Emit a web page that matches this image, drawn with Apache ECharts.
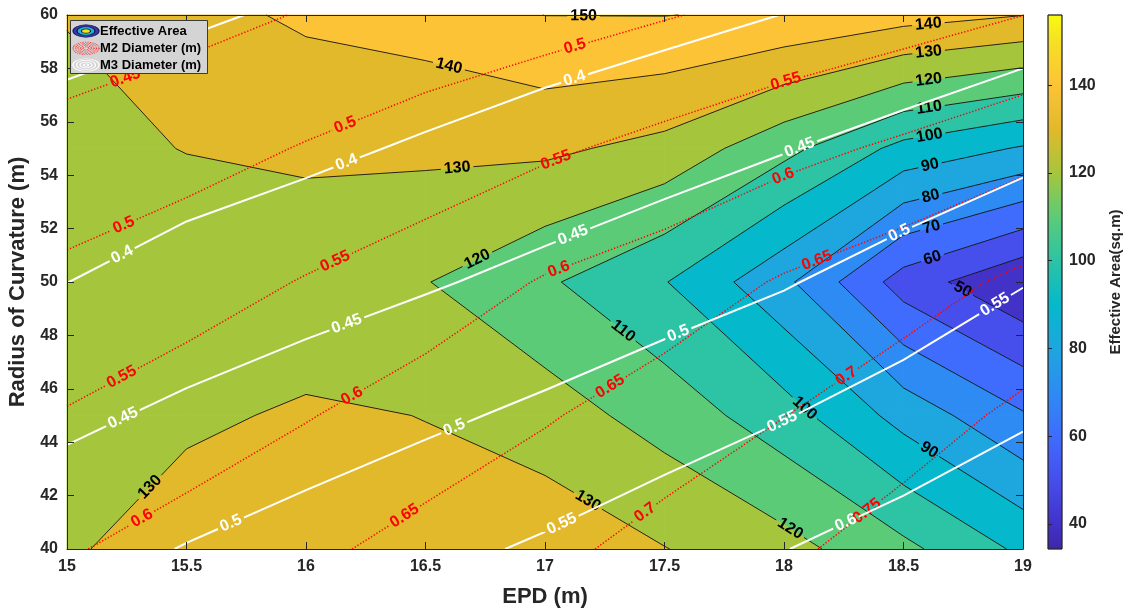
<!DOCTYPE html>
<html>
<head>
<meta charset="utf-8">
<title>Effective Area contour</title>
<script src="https://cdn.jsdelivr.net/npm/echarts@6.0.0/dist/echarts.min.js"></script>
<style>
html,body{margin:0;padding:0;background:#ffffff;}
#chart{width:1129px;height:612px;}
</style>
</head>
<body>
<div id="chart"></div>
<script>
// ---------------- data ----------------
const epd = [15, 15.5, 16, 16.5, 17, 17.5, 18, 18.5, 19];
const radius = [40, 45, 50, 55, 60];

// Effective Area (sq.m), one array per radius of curvature, one value per EPD
const area_R40 = [128.5, 136, 137, 134, 136.5, 130.3, 123.5, 112.5, 98];
const area_R45 = [126, 128, 131.5, 129.8, 124.7, 116, 104.3, 86.4, 71];
const area_R50 = [124, 123, 122, 120.4, 111.5, 100.5, 82.4, 55.4, 41];
const area_R55 = [127, 130.3, 132.3, 131.9, 131.9, 127, 113, 97, 89];
const area_R60 = [130.4, 137, 141.5, 144.2, 150.1, 150.2, 148.5, 144, 140.2];

// M2 Diameter (m)
const m2_R40 = [0.596, 0.6185, 0.6406, 0.665, 0.688, 0.7166, 0.7416, 0.7711, 0.797];
const m2_R45 = [0.5529, 0.5745, 0.5976, 0.6218, 0.646, 0.6729, 0.6993, 0.7285, 0.7597];
const m2_R50 = [0.5106, 0.5297, 0.5527, 0.5746, 0.6034, 0.6238, 0.6545, 0.6791, 0.7097];
const m2_R55 = [0.4665, 0.4827, 0.5028, 0.5223, 0.5429, 0.5634, 0.586, 0.6083, 0.6339];
const m2_R60 = [0.4218, 0.4356, 0.4526, 0.4692, 0.4816, 0.4973, 0.5137, 0.5301, 0.5497];

// M3 Diameter (m)
const m3_R40 = [0.482, 0.502, 0.52, 0.538, 0.556, 0.5775, 0.599, 0.6195, 0.64];
const m3_R45 = [0.441, 0.4585, 0.4746, 0.4916, 0.509, 0.528, 0.548, 0.5708, 0.5945];
const m3_R50 = [0.3997, 0.417, 0.4316, 0.4457, 0.4615, 0.479, 0.4967, 0.5209, 0.548];
const m3_R55 = [0.367, 0.3795, 0.391, 0.405, 0.4187, 0.4323, 0.448, 0.4664, 0.4866];
const m3_R60 = [0.334, 0.3444, 0.356, 0.365, 0.3776, 0.3884, 0.4005, 0.4095, 0.4256];

const areaLevels = [40, 50, 60, 70, 80, 90, 100, 110, 120, 130, 140, 150];
const m2Levels = [0.45, 0.5, 0.55, 0.6, 0.65, 0.7, 0.75];
const m3Levels = [0.35, 0.4, 0.45, 0.5, 0.55, 0.6];
const colorbarTicks = [40, 60, 80, 100, 120, 140];
const colorLimits = [34.3, 156];
const legendNames = ['Effective Area', 'M2 Diameter (m)', 'M3 Diameter (m)'];

// ---------------- styles ----------------
const FONT = "'Liberation Sans', Arial, Helvetica, sans-serif";
const AXIS_COLOR = '#262626';
const LABEL_FONT = 'bold 16px ' + FONT;
// parula-like colour map (t in 0..1)
const cmap = [
  [0.000, [62, 38, 168]],
  [0.047, [66, 50, 200]],
  [0.129, [70, 78, 236]],
  [0.211, [63, 108, 252]],
  [0.293, [46, 139, 243]],
  [0.375, [30, 166, 223]],
  [0.458, [6, 184, 203]],
  [0.540, [45, 195, 165]],
  [0.622, [92, 203, 120]],
  [0.704, [165, 198, 60]],
  [0.786, [225, 185, 43]],
  [0.868, [253, 195, 55]],
  [0.950, [246, 224, 36]],
  [1.000, [249, 251, 14]]
];
function cmapRGB(v) {
  let t = (v - colorLimits[0]) / (colorLimits[1] - colorLimits[0]);
  t = Math.max(0, Math.min(1, t));
  for (let k = 0; k < cmap.length - 1; k++) {
    const t0 = cmap[k][0], c0 = cmap[k][1], t1 = cmap[k + 1][0], c1 = cmap[k + 1][1];
    if (t <= t1) {
      const u = (t - t0) / (t1 - t0);
      return 'rgb(' + c0.map((c, m) => Math.round(c + (c1[m] - c) * u)).join(',') + ')';
    }
  }
  return 'rgb(' + cmap[cmap.length - 1][1].join(',') + ')';
}

// ---------------- contour helpers ----------------
function contourPolylines(Z, level) {
  const nx = epd.length, ny = radius.length, pts = {}, segs = [];
  function cross(key, x0, y0, z0, x1, y1, z1) {
    if (!(key in pts)) { const t = (level - z0) / (z1 - z0); pts[key] = [x0 + (x1 - x0) * t, y0 + (y1 - y0) * t]; }
    return key;
  }
  for (let j = 0; j < ny - 1; j++) for (let i = 0; i < nx - 1; i++) {
    const x0 = epd[i], x1 = epd[i + 1], y0 = radius[j], y1 = radius[j + 1];
    const z00 = Z[j][i], z10 = Z[j][i + 1], z11 = Z[j + 1][i + 1], z01 = Z[j + 1][i];
    const a00 = z00 >= level, a10 = z10 >= level, a11 = z11 >= level, a01 = z01 >= level;
    const e = [];
    if (a00 !== a10) e.push(cross('h' + i + '_' + j, x0, y0, z00, x1, y0, z10));
    if (a10 !== a11) e.push(cross('v' + (i + 1) + '_' + j, x1, y0, z10, x1, y1, z11));
    if (a01 !== a11) e.push(cross('h' + i + '_' + (j + 1), x0, y1, z01, x1, y1, z11));
    if (a00 !== a01) e.push(cross('v' + i + '_' + j, x0, y0, z00, x0, y1, z01));
    if (e.length === 2) segs.push([e[0], e[1]]);
    else if (e.length === 4) {
      const ac = (z00 + z10 + z11 + z01) / 4 >= level;
      if (ac === a00) { segs.push([e[0], e[1]]); segs.push([e[2], e[3]]); }
      else { segs.push([e[0], e[3]]); segs.push([e[1], e[2]]); }
    }
  }
  const adj = {};
  segs.forEach((s, k) => { (adj[s[0]] || (adj[s[0]] = [])).push(k); (adj[s[1]] || (adj[s[1]] = [])).push(k); });
  const used = segs.map(() => false), lines = [];
  const walk = (key, k) => {
    const out = [key]; let cur = key;
    while (k !== undefined) {
      used[k] = true; const s = segs[k];
      cur = s[0] === cur ? s[1] : s[0]; out.push(cur);
      k = adj[cur].find(q => !used[q]);
    }
    return out;
  };
  Object.keys(adj).forEach(key => { if (adj[key].length === 1 && !used[adj[key][0]]) lines.push(walk(key, adj[key][0])); });
  segs.forEach((s, k) => { if (!used[k]) lines.push(walk(s[0], k)); });
  return lines.map(l => l.map(key => pts[key]));
}

function clipPoly(poly, thr, keepAbove) {
  const out = [], n = poly.length;
  for (let k = 0; k < n; k++) {
    const c = poly[k], d = poly[(k + 1) % n];
    const ci = keepAbove ? c[2] >= thr : c[2] <= thr;
    const di = keepAbove ? d[2] >= thr : d[2] <= thr;
    if (ci) out.push(c);
    if (ci !== di) { const t = (thr - c[2]) / (d[2] - c[2]); out.push([c[0] + (d[0] - c[0]) * t, c[1] + (d[1] - c[1]) * t, thr]); }
  }
  return out;
}

function bandPolygons(Z, levels) {
  const bounds = [-Infinity].concat(levels, [Infinity]), polys = [];
  for (let j = 0; j < radius.length - 1; j++) for (let i = 0; i < epd.length - 1; i++) {
    const x0 = epd[i], x1 = epd[i + 1], y0 = radius[j], y1 = radius[j + 1];
    const cell = [[x0, y0, Z[j][i]], [x1, y0, Z[j][i + 1]], [x1, y1, Z[j + 1][i + 1]], [x0, y1, Z[j + 1][i]]];
    for (let b = 0; b < bounds.length - 1; b++) {
      const lo = bounds[b], hi = bounds[b + 1];
      let p = cell;
      if (isFinite(lo)) p = clipPoly(p, lo, true);
      if (p.length < 3) continue;
      if (isFinite(hi)) p = clipPoly(p, hi, false);
      if (p.length < 3) continue;
      polys.push({ pts: p.map(q => [q[0], q[1]]), color: cmapRGB(isFinite(lo) ? lo : colorLimits[0]) });
    }
  }
  return polys;
}

const measureCtx = document.createElement('canvas').getContext('2d');
function textWidth(t, font) { measureCtx.font = font; return measureCtx.measureText(t).width; }

// ---------------- chart ----------------
const chart = echarts.init(document.getElementById('chart'), null, { width: 1129, height: 612 });

const axisCommon = {
  axisLine: { show: true, onZero: false, lineStyle: { color: AXIS_COLOR, width: 1 } },
  axisTick: { show: true, inside: true, length: 7, lineStyle: { color: AXIS_COLOR, width: 1 } },
  splitLine: { show: false },
  z: 10
};
const tickLabel = { color: AXIS_COLOR, fontFamily: FONT, fontWeight: 'bold', fontSize: 16 };
const nameStyle = { color: AXIS_COLOR, fontFamily: FONT, fontWeight: 'bold', fontSize: 22 };

const gradStops = cmap.map(s => ({ offset: 1 - s[0], color: 'rgb(' + s[1].join(',') + ')' })).reverse();
const colorbarSeries = {
  type: 'custom', xAxisIndex: 2, yAxisIndex: 2, silent: true, z: 2,
  data: [[0, colorLimits[0]]],
  renderItem: (params, api) => {
    const p0 = api.coord([0, colorLimits[1]]), p1 = api.coord([1, colorLimits[0]]);
    return { type: 'rect', shape: { x: p0[0], y: p0[1], width: p1[0] - p0[0], height: p1[1] - p0[1] },
      style: { fill: new echarts.graphic.LinearGradient(0, 0, 0, 1, gradStops), stroke: AXIS_COLOR, lineWidth: 0.8 } };
  }
};

// legend (drawn as graphics, positioned in pixels)
function ellipse(cx, cy, r, style, z) {
  return { type: 'circle', x: cx, y: cy, scaleY: 0.48, shape: { cx: 0, cy: 0, r: r }, style: style, z: z };
}
const lg = [];
lg.push({ type: 'rect', shape: { x: 70.5, y: 20.5, width: 137, height: 53 }, style: { fill: '#d4d4d4', stroke: '#3a3a3a', lineWidth: 1 }, z: 100 });
lg.push(ellipse(86, 31, 13, { fill: '#3b37a6', stroke: '#12124f', lineWidth: 1.2 }, 101));
lg.push(ellipse(86, 31, 9, { fill: '#1bb6cb', stroke: '#12124f', lineWidth: 1.2 }, 102));
lg.push(ellipse(86, 31, 4.5, { fill: '#f2e41c', stroke: '#12124f', lineWidth: 1.2 }, 103));
[13, 10.5, 8, 5.5, 3].forEach(r => lg.push(ellipse(86, 48.3, r, { fill: null, stroke: '#ff2020', lineWidth: 1.4, lineDash: [1.3, 1.3] }, 101)));
[13, 9.5, 6, 2.5].forEach(r => lg.push(ellipse(86, 65, r, { fill: null, stroke: '#ffffff', lineWidth: 1.4 }, 101)));
legendNames.forEach((n, k) => lg.push({ type: 'text', x: 100, y: 31 + k * 17, z: 104,
  style: { text: n, font: 'bold 13px ' + FONT, fill: '#000000', verticalAlign: 'middle', align: 'left' } }));

chart.setOption({
  animation: false,
  backgroundColor: '#ffffff',
  grid: [
    { left: 67, top: 15, width: 956, height: 534, outerBoundsMode: 'none' },
    { left: 1048, top: 15, width: 14, height: 534, outerBoundsMode: 'none' }
  ],
  xAxis: [
    Object.assign({}, axisCommon, { gridIndex: 0, type: 'value', min: 15, max: 19, interval: 0.5, position: 'bottom',
      axisLabel: Object.assign({ margin: 10 }, tickLabel),
      name: 'EPD (m)', nameLocation: 'middle', nameGap: 37, nameTextStyle: nameStyle }),
    Object.assign({}, axisCommon, { gridIndex: 0, type: 'value', min: 15, max: 19, interval: 0.5, position: 'top', axisLabel: { show: false } }),
    { gridIndex: 1, type: 'value', min: 0, max: 1, show: false }
  ],
  yAxis: [
    Object.assign({}, axisCommon, { gridIndex: 0, type: 'value', min: 40, max: 60, interval: 2, position: 'left',
      axisLabel: Object.assign({ margin: 9 }, tickLabel),
      name: 'Radius of Curvature (m)', nameLocation: 'middle', nameGap: 35, nameRotate: 90, nameTextStyle: nameStyle }),
    Object.assign({}, axisCommon, { gridIndex: 0, type: 'value', min: 40, max: 60, interval: 2, position: 'right', axisLabel: { show: false } }),
    { gridIndex: 1, type: 'value', min: colorLimits[0], max: colorLimits[1], position: 'right', z: 10,
      axisLine: { show: false },
      axisTick: { show: true, inside: false, length: 4, customValues: colorbarTicks, lineStyle: { color: AXIS_COLOR } },
      axisLabel: Object.assign({ margin: 7, customValues: colorbarTicks }, tickLabel),
      splitLine: { show: false },
      name: 'Effective Area(sq.m)', nameLocation: 'middle', nameGap: 46, nameRotate: 90,
      nameTextStyle: { color: AXIS_COLOR, fontFamily: FONT, fontWeight: 'bold', fontSize: 15 } }
  ],
  graphic: lg,
  series: [colorbarSeries]
});

const toPx = p => chart.convertToPixel({ gridIndex: 0 }, p);

function layoutLine(dataPts, text, st) {
  let pts = dataPts.slice(), px = pts.map(toPx);
  const a = px[0], b = px[px.length - 1];
  let rev;
  if (st.startFrom === 'right') rev = Math.abs(a[0] - b[0]) < 20 ? b[1] < a[1] : b[0] > a[0];
  else rev = Math.abs(a[0] - b[0]) < 20 ? b[1] > a[1] : b[0] < a[0];
  if (rev) { pts.reverse(); px.reverse(); }
  const s = [0];
  for (let k = 1; k < px.length; k++) s.push(s[k - 1] + Math.hypot(px[k][0] - px[k - 1][0], px[k][1] - px[k - 1][1]));
  const L = s[s.length - 1];
  function at(sv) {
    let k = 0;
    while (k < s.length - 2 && s[k + 1] < sv) k++;
    const d = s[k + 1] - s[k], t = d > 0 ? Math.max(0, Math.min(1, (sv - s[k]) / d)) : 0;
    return { d: [pts[k][0] + (pts[k + 1][0] - pts[k][0]) * t, pts[k][1] + (pts[k + 1][1] - pts[k][1]) * t],
             p: [px[k][0] + (px[k + 1][0] - px[k][0]) * t, px[k][1] + (px[k + 1][1] - px[k][1]) * t] };
  }
  const w = textWidth(text, st.font), half = w / 2 + st.pad;
  const corners = [];
  for (let k = 1; k < px.length - 1; k++) {
    const a1 = Math.atan2(px[k][1] - px[k - 1][1], px[k][0] - px[k - 1][0]);
    const a2 = Math.atan2(px[k + 1][1] - px[k][1], px[k + 1][0] - px[k][0]);
    let dd = Math.abs(a2 - a1); if (dd > Math.PI) dd = 2 * Math.PI - dd;
    if (dd > st.maxTurn) corners.push(s[k]);
  }
  const centers = [];
  if (L > 2 * half + 2) {
    for (let c = st.first; c <= L - half; c += st.spacing) {
      let cc = c;
      corners.forEach(sv => { if (Math.abs(sv - cc) < half) cc = (sv - half - 1 >= half) ? sv - half - 1 : sv + half + 1; });
      if (cc < half || cc > L - half) continue;
      centers.push(cc);
    }
    if (centers.length === 0 && st.always) centers.push(Math.max(half, Math.min(L - half, st.first)));
  }
  const labels = centers.map(c => {
    const p1 = at(c - w / 2).p, p2 = at(c + w / 2).p;
    let ang = Math.atan2(-(p2[1] - p1[1]), p2[0] - p1[0]);
    if (ang > Math.PI / 2) ang -= Math.PI;
    if (ang < -Math.PI / 2) ang += Math.PI;
    return { pt: at(c).d, rot: ang, text: text };
  });
  const pieces = [];
  function piece(sa, sb) {
    if (sb - sa < 0.5) return;
    const r = [at(sa).d];
    for (let k = 0; k < s.length; k++) if (s[k] > sa && s[k] < sb) r.push(pts[k]);
    r.push(at(sb).d);
    pieces.push(r);
  }
  let start = 0;
  centers.forEach(c => { piece(start, c - half); start = c + half; });
  piece(start, L);
  return { pieces, labels };
}

function fmt(v) { return String(parseFloat(v.toFixed(2))); }

function buildField(Z, levels, st) {
  let pieces = [], labels = [];
  levels.forEach(lv => {
    contourPolylines(Z, lv).forEach(line => {
      if (line.length < 2) return;
      const r = layoutLine(line, fmt(lv), st);
      pieces = pieces.concat(r.pieces); labels = labels.concat(r.labels);
    });
  });
  return { pieces, labels };
}

function lineSeries(pieces, style, z) {
  return { type: 'custom', xAxisIndex: 0, yAxisIndex: 0, silent: true, z: z,
    data: pieces.map((p, i) => [p[0][0], p[0][1], i]),
    renderItem: (params, api) => {
      const p = pieces[api.value(2)];
      return { type: 'polyline', shape: { points: p.map(q => api.coord(q)) }, style: Object.assign({ fill: null }, style) };
    } };
}
function labelSeries(labels, color, z) {
  return { type: 'custom', xAxisIndex: 0, yAxisIndex: 0, silent: true, z: z,
    data: labels.map((l, i) => [l.pt[0], l.pt[1], i]),
    renderItem: (params, api) => {
      const l = labels[api.value(2)], c = api.coord(l.pt);
      return { type: 'text', x: c[0], y: c[1], rotation: l.rot,
        style: { text: l.text, fill: color, font: LABEL_FONT, align: 'center', verticalAlign: 'middle' } };
    } };
}

const AREA = [area_R40, area_R45, area_R50, area_R55, area_R60];
const M2 = [m2_R40, m2_R45, m2_R50, m2_R55, m2_R60];
const M3 = [m3_R40, m3_R45, m3_R50, m3_R55, m3_R60];

const fills = bandPolygons(AREA, areaLevels);
const fillSeries = { type: 'custom', xAxisIndex: 0, yAxisIndex: 0, silent: true, z: 1,
  data: fills.map((p, i) => [p.pts[0][0], p.pts[0][1], i]),
  renderItem: (params, api) => {
    const p = fills[api.value(2)];
    return { type: 'polygon', shape: { points: p.pts.map(q => api.coord(q)) }, style: { fill: p.color, stroke: p.color, lineWidth: 0.8 } };
  } };

const blackSt = { startFrom: 'right', first: 95, spacing: 488, pad: 3, maxTurn: 0.45, font: LABEL_FONT, always: true };
const lineSt = { startFrom: 'left', first: 62, spacing: 243, pad: 3, maxTurn: 0.45, font: LABEL_FONT, always: false };

const areaC = buildField(AREA, areaLevels, blackSt);
const m2C = buildField(M2, m2Levels, lineSt);
const m3C = buildField(M3, m3Levels, lineSt);

chart.setOption({
  series: [
    colorbarSeries,
    fillSeries,
    lineSeries(areaC.pieces, { stroke: '#111111', lineWidth: 0.9 }, 3),
    labelSeries(areaC.labels, '#000000', 4),
    lineSeries(m2C.pieces, { stroke: '#ff0000', lineWidth: 1.5, lineDash: [1.3, 1.9] }, 5),
    labelSeries(m2C.labels, '#ff0000', 6),
    lineSeries(m3C.pieces, { stroke: '#ffffff', lineWidth: 2 }, 7),
    labelSeries(m3C.labels, '#ffffff', 8)
  ]
});
</script>
</body>
</html>
